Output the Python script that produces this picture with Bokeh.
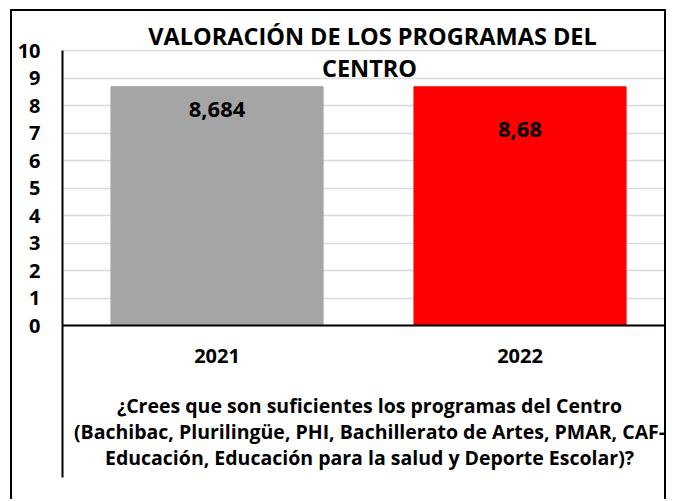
from bokeh.plotting import figure
from bokeh.models import (ColumnDataSource, LabelSet, Label, Span, FactorRange,
                          Range1d)
from bokeh.core.properties import value
from bokeh.transform import dodge
from bokeh.embed import file_html
from bokeh.resources import INLINE

# ---- data ----
years = ["2021", "2022"]
scores = [8.684, 8.68]
score_labels = ["8,684", "8,68"]
bar_colors = ["#A5A5A5", "#FF0000"]
y_ticks = [0, 1, 2, 3, 4, 5, 6, 7, 8, 9, 10]
title_lines = ["VALORACIÓN DE LOS PROGRAMAS DEL", "CENTRO"]
question_lines = [
    "¿Crees que son suficientes los programas del Centro",
    "(Bachibac, Plurilingüe, PHI, Bachillerato de Artes, PMAR, CAF-",
    "Educación, Educación para la salud y Deporte Escolar)?",
]

# ---- layout / styles ----
FONT = "Open Sans"
W, H = 656, 490            # canvas size
FRAME_LEFT = 50            # canvas px
Y10, Y0 = 39, 314          # canvas px of value 10 and value 0
PX = (Y0 - Y10) / 10.0     # px per unit
AXIS_BOTTOM = 466          # canvas px where the vertical axis line ends
y_end = 10 + Y10 / PX
y_start = -(H - Y0) / PX
axis_low = -(AXIS_BOTTOM - Y0) / PX
label_dy = [-23, -43]

src = ColumnDataSource(dict(year=years, score=scores, lab=score_labels,
                            color=bar_colors, dy=label_dy))

p = figure(x_range=FactorRange(*years), y_range=Range1d(y_start, y_end),
           width=W, height=H, output_backend="svg", toolbar_location=None,
           min_border_left=FRAME_LEFT, min_border_top=0,
           min_border_right=0, min_border_bottom=0)
p.outline_line_color = None
p.background_fill_color = "white"
p.border_fill_color = "white"
p.margin = (9, 0, 0, 10)
p.styles = {"border-top": "2px solid black", "border-left": "2px solid black",
            "border-right": "2px solid black"}

xpos = dodge("year", 0.01, range=p.x_range)
p.vbar(x=xpos, top="score", bottom=0, width=0.70, color="color", source=src)

p.add_layout(LabelSet(x=xpos, y="score", text="lab", y_offset="dy", source=src,
                      text_align="center", text_baseline="middle",
                      text_font=value(FONT), text_font_style="bold",
                      text_font_size="22px", text_color="black"))

# category labels under the axis line
p.add_layout(LabelSet(x=xpos, y=0, text="year", y_offset=-30, source=src,
                      text_align="center", text_baseline="middle",
                      text_font=value(FONT), text_font_style="bold",
                      text_font_size="20px", text_color="black"))

# grid
p.xgrid.grid_line_color = None
p.ygrid.grid_line_color = "#D9D9D9"
p.ygrid.grid_line_width = 1.5

# y axis
p.yaxis.ticker = y_ticks
p.yaxis.bounds = (axis_low, 10)
p.yaxis.axis_line_color = "black"
p.yaxis.axis_line_width = 2
p.yaxis.major_tick_line_color = None
p.yaxis.minor_tick_line_color = None
p.yaxis.major_tick_out = 0
p.yaxis.major_tick_in = 0
p.yaxis.major_label_standoff = 22
p.yaxis.major_label_text_font = FONT
p.yaxis.major_label_text_font_style = "bold"
p.yaxis.major_label_text_font_size = "20px"
p.yaxis.major_label_text_color = "black"

p.xaxis.visible = False

# horizontal axis line at 0
p.add_layout(Span(location=0, dimension="width", line_color="black",
                  line_width=2))

# title lines
title_pos = [(358, 22), (355, 54)]
for line, (tx, ty) in zip(title_lines, title_pos):
    p.add_layout(Label(x=tx, y=ty, x_units="canvas", y_units="canvas",
                       text=line, text_align="center", text_baseline="middle",
                       text_font=FONT, text_font_style="bold",
                       text_font_size="23.5px", text_color="black"))

# axis title (question), three lines
for i, line in enumerate(question_lines):
    p.add_layout(Label(x=355, y=392 + 26 * i, x_units="canvas", y_units="canvas",
                       text=line, text_align="center", text_baseline="middle",
                       text_font=FONT, text_font_style="bold",
                       text_font_size="19.5px", text_color="black"))

open("out.html", "w").write(file_html(p, INLINE))
